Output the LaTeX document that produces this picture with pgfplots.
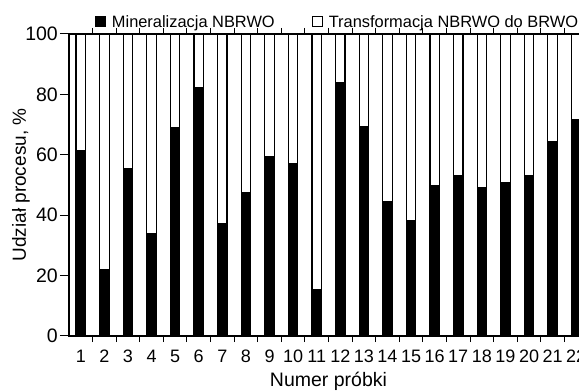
\documentclass[border=0pt]{standalone}
\usepackage{fontspec}
\setmainfont{Liberation Sans}
\usepackage{pgfplots}
\usepackage{pgfplotstable}
\pgfplotsset{compat=1.18}
\pgfplotstableread{
x m t
1 61.5 38.5
2 22.1 77.9
3 55.4 44.6
4 33.8 66.2
5 69.0 31.0
6 82.3 17.7
7 37.1 62.9
8 47.6 52.4
9 59.4 40.6
10 57.1 42.9
11 15.3 84.7
12 83.9 16.1
13 69.3 30.7
14 44.6 55.4
15 38.1 61.9
16 49.9 50.1
17 53.2 46.8
18 49.3 50.7
19 50.9 49.1
20 53.2 46.8
21 64.3 35.7
22 71.5 28.5
}\datatable
\begin{document}
\begin{tikzpicture}[x=1pt,y=1pt]
\begin{scope}
\clip (0,0) rectangle (579,391);
\begin{axis}[
  at={(69pt,55pt)}, anchor=south west,
  scale only axis, width=519pt, height=302pt,
  xmin=0.5, xmax=22.5, ymin=0, ymax=100,
  ybar stacked, bar width=0.40,
  xtick={1,...,22},
  minor xtick={1.5,2.5,...,21.5},
  ytick={0,20,...,100},
  tick align=outside,
  major x tick style={draw=none},
  minor tick length=6pt,
  major tick length=9pt,
  x tick style={line width=1pt, black},
  y tick style={line width=1pt, black},
  axis line style={line width=1.1pt},
  /pgf/number format/assume math mode=true,
  xticklabel style={font=\fontsize{18}{20}\selectfont, inner sep=1pt, yshift=-4pt},
  yticklabel style={font=\fontsize{19.5}{22}\selectfont, inner sep=0pt, xshift=-2pt},
  every axis y label/.style={at={(axis description cs:0,0.5)}, xshift=-43pt, rotate=90, anchor=base, font=\fontsize{19}{22}\selectfont},
  every axis x label/.style={at={(axis description cs:0.5,0)}, yshift=-51pt, anchor=base, font=\fontsize{19.5}{22}\selectfont},
  ylabel={Udział procesu, \%},
  xlabel={Numer próbki},
  legend columns=2,
  legend image code/.code={\draw[#1,line width=1pt] (0pt,-5pt) rectangle (10pt,5pt);},
  legend style={draw=none, fill=none, inner sep=0pt, outer sep=0pt,
    at={(0.05,1.04)}, anchor=west,
    font=\fontsize{16.4}{18}\selectfont,
    nodes={inner sep=2pt},
    /tikz/every odd column/.append style={column sep=4pt},
    /tikz/every even column/.append style={column sep=35pt}},
]
\addplot[fill=black, draw=black, line width=1.2pt] table[x=x,y=m]{\datatable};
\addplot[fill=white, draw=black, line width=1.2pt] table[x=x,y=t]{\datatable};
\legend{Mineralizacja NBRWO, Transformacja NBRWO do BRWO}
\end{axis}
\end{scope}
\pgfresetboundingbox
\path[use as bounding box] (0,0) rectangle (579,391);
\end{tikzpicture}
\end{document}
